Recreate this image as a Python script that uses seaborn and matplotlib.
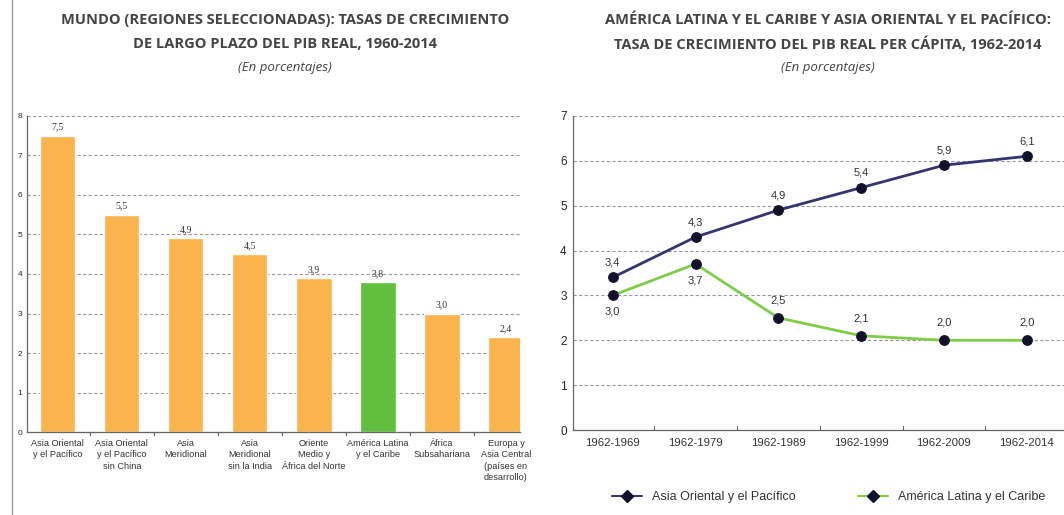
import numpy as np
import pandas as pd
import matplotlib
matplotlib.use("Agg")
import matplotlib.pyplot as plt
import seaborn as sns
from matplotlib.lines import Line2D

# ==============================
# DATA
# ==============================
regiones = ["Asia Oriental\ny el Pacífico", "Asia Oriental\ny el Pacífico\nsin China",
            "Asia\nMeridional", "Asia\nMeridional\nsin la India",
            "Oriente\nMedio y\nÁfrica del Norte", "América Latina\ny el Caribe",
            "África\nSubsahariana", "Europa y\nAsia Central\n(países en\ndesarrollo)"]
tasas = [7.5, 5.5, 4.9, 4.5, 3.9, 3.8, 3.0, 2.4]
destacada = [False, False, False, False, False, True, False, False]

periodos = ["1962-1969", "1962-1979", "1962-1989", "1962-1999", "1962-2009", "1962-2014"]
asia_pib = [3.4, 4.3, 4.9, 5.4, 5.9, 6.1]
alc_pib = [3.0, 3.7, 2.5, 2.1, 2.0, 2.0]

ORANGE = "#FBB34E"
GREEN = "#62BE3E"
NAVY = "#35346E"
LGREEN = "#80CC48"
DOT = "#12122c"

sns.set_style("white")
plt.rcParams['font.family'] = ['Liberation Sans', 'DejaVu Sans']

fig = plt.figure(figsize=(10.64, 5.15), dpi=100)
ax1 = fig.add_axes([0.0254, 0.161, 0.4634, 0.614])
ax2 = fig.add_axes([0.5385, 0.165, 0.4615, 0.61])

fig.add_artist(Line2D([12 / 1064, 12 / 1064], [0, 1], color="#999999", lw=1.0))

def style_axis(ax):
    for s in ["top", "right"]:
        ax.spines[s].set_visible(False)
    for s in ["left", "bottom"]:
        ax.spines[s].set_color("#666666")
        ax.spines[s].set_linewidth(0.9)
    ax.yaxis.grid(True, color="#9a9a9a", linestyle=(0, (3, 2)), linewidth=0.8)
    ax.set_axisbelow(True)
    ax.set_xlabel("")
    ax.set_ylabel("")

TFONT = ["Open Sans", "DejaVu Sans"]

# ==============================
# Left: bars
# ==============================
df_bar = pd.DataFrame({"region": regiones, "tasa": tasas,
                       "grupo": ["g" if d else "o" for d in destacada]})
sns.barplot(data=df_bar, x="region", y="tasa", hue="grupo",
            palette={"o": ORANGE, "g": GREEN}, dodge=False, width=0.55,
            saturation=1, legend=False, ax=ax1)
style_axis(ax1)
ax1.set_ylim(0, 8)
ax1.set_xlim(-0.48, 7.22)
ax1.set_yticks(range(0, 9))
ax1.tick_params(axis="y", labelsize=6, length=3, color="#666666", pad=2, direction="inout")
ax1.set_xticks(range(len(regiones)))
ax1.set_xticklabels(regiones, fontsize=6.6, color="#333333", linespacing=1.35)
ax1.tick_params(axis="x", length=0, pad=5)
for x in np.arange(0.5, len(regiones) - 0.5, 1):
    ax1.plot([x, x], [0, -0.08], color="#666666", lw=0.8, clip_on=False)
for i, v in enumerate(tasas):
    ax1.text(i, v + 0.1, f"{v:.1f}".replace(".", ","), ha="center", va="bottom",
             fontsize=7, color="#333333", family=["Liberation Serif", "DejaVu Serif"])

fig.text(0.268, 0.961, "MUNDO (REGIONES SELECCIONADAS): TASAS DE CRECIMIENTO",
         ha="center", va="center", fontsize=10.5, fontweight="bold", color="#444444",
         family=TFONT)
fig.text(0.268, 0.915, "DE LARGO PLAZO DEL PIB REAL, 1960-2014",
         ha="center", va="center", fontsize=10.5, fontweight="bold", color="#444444",
         family=TFONT)
fig.text(0.268, 0.869, "(En porcentajes)", ha="center", va="center", fontsize=9.5,
         style="italic", color="#444444", family=TFONT)

# ==============================
# Right: lines
# ==============================
df_line = pd.DataFrame({
    "periodo": periodos * 2,
    "valor": asia_pib + alc_pib,
    "serie": ["Asia Oriental y el Pacífico"] * 6 + ["América Latina y el Caribe"] * 6,
})
df_line["x"] = df_line["periodo"].map({p: i for i, p in enumerate(periodos)})
sns.lineplot(data=df_line, x="x", y="valor", hue="serie",
             palette={"Asia Oriental y el Pacífico": NAVY, "América Latina y el Caribe": LGREEN},
             linewidth=2.0, marker="o", markersize=7, markeredgecolor=DOT,
             markerfacecolor=DOT, legend=False, ax=ax2)
style_axis(ax2)
ax2.set_ylim(0, 7)
ax2.set_xlim(-0.48, 5.45)
ax2.set_yticks(range(0, 8))
ax2.tick_params(axis="y", labelsize=8.5, length=3, color="#666666", pad=3, direction="inout")
ax2.set_xticks(range(len(periodos)))
ax2.set_xticklabels(periodos, fontsize=8.2, color="#333333")
ax2.tick_params(axis="x", length=0, pad=6)
for x in np.arange(0.5, len(periodos) - 0.5, 1):
    ax2.plot([x, x], [0, 0.1], color="#666666", lw=0.8, clip_on=False)

for i, v in enumerate(asia_pib):
    ax2.text(i, v + 0.22, f"{v:.1f}".replace(".", ","), ha="center", va="bottom",
             fontsize=8, color="#333333")
for i, v in enumerate(alc_pib):
    below = i < 2
    y = v - 0.25 if below else v + 0.28
    ax2.text(i, y, f"{v:.1f}".replace(".", ","), ha="center",
             va="top" if below else "bottom", fontsize=8, color="#333333")

handles = [Line2D([], [], color=NAVY, lw=1.5, marker="D", markersize=6,
                  markerfacecolor=DOT, markeredgecolor=DOT),
           Line2D([], [], color=LGREEN, lw=1.5, marker="D", markersize=6,
                  markerfacecolor=DOT, markeredgecolor=DOT)]
ax2.legend(handles, ["Asia Oriental y el Pacífico", "América Latina y el Caribe"],
           loc="center", bbox_to_anchor=(0.52, -0.213), ncol=2, frameon=False,
           fontsize=9, handlelength=2.4, columnspacing=5, labelcolor="#333333")

fig.text(0.778, 0.961, "AMÉRICA LATINA Y EL CARIBE Y ASIA ORIENTAL Y EL PACÍFICO:",
         ha="center", va="center", fontsize=10.5, fontweight="bold", color="#444444",
         family=TFONT)
fig.text(0.778, 0.915, "TASA DE CRECIMIENTO DEL PIB REAL PER CÁPITA, 1962-2014",
         ha="center", va="center", fontsize=10.5, fontweight="bold", color="#444444",
         family=TFONT)
fig.text(0.778, 0.869, "(En porcentajes)", ha="center", va="center", fontsize=9.5,
         style="italic", color="#444444", family=TFONT)

fig.savefig("out.png", dpi=100)
